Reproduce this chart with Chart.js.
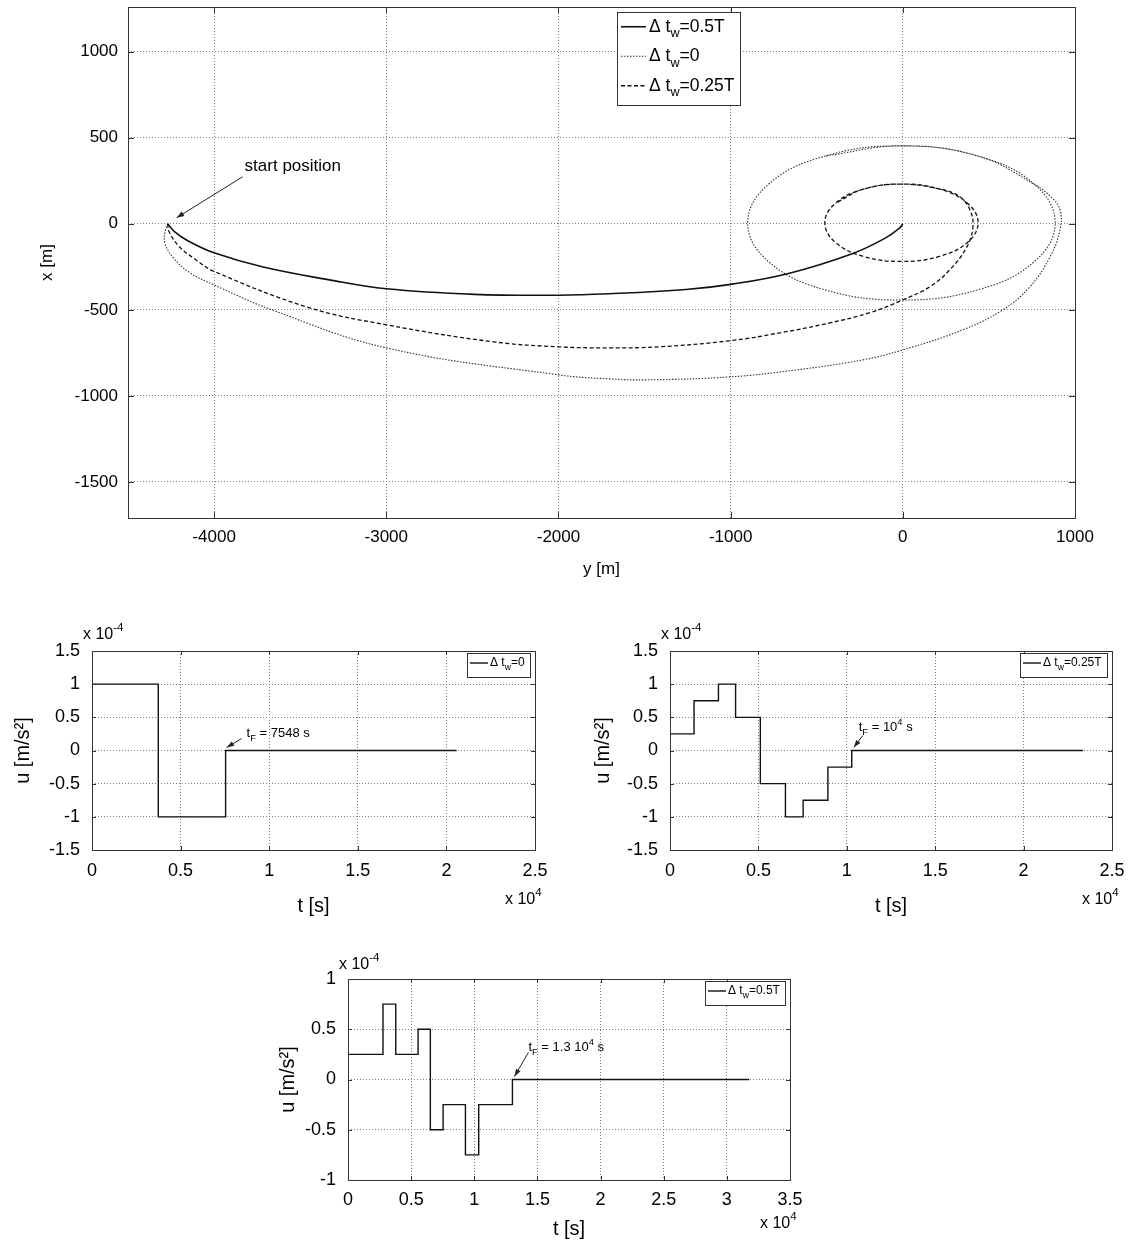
<!DOCTYPE html>
<html>
<head>
<meta charset="utf-8">
<script src="https://cdn.jsdelivr.net/npm/chart.js@4.4.1/dist/chart.umd.min.js"></script>
<style>
    body { margin: 0; background: #fff; width: 1134px; height: 1241px; position: relative; overflow: hidden; }
    canvas { position: absolute; }
</style>
</head>
<body>
<canvas id="orbitChart" width="1134" height="600" style="left:0;top:0"></canvas>
<canvas id="ctrl0Chart" width="567" height="320" style="left:0;top:610px"></canvas>
<canvas id="ctrl25Chart" width="567" height="320" style="left:567px;top:610px"></canvas>
<canvas id="ctrl50Chart" width="600" height="301" style="left:260px;top:940px"></canvas>
<script>
// trajectories, horizontal = y [m], vertical = x [m]
const solidY = [-4270, -4230, -4150, -4000, -3721, -3331, -3000, -2490, -2000, -1710, -1260, -1000, -670, -290, -100, -20, 0];
const solidX = [0, -45, -100, -169, -250, -326, -378, -410, -415, -407, -382, -352, -290, -172, -82, -25, 0];

const dottedY = [-4270, -4285, -4285, -4235, -4140, -4000, -3665, -3000, -2000, -1709, -1488, -1006, -616, -233, 0, 349, 581, 738, 855, 913, 913, 866,
    765, 439, -8, -455, -781, -901, -781, -455, -8, 439, 765, 885, 765, 439, -8, -455];
const dottedX = [0, -50, -115, -200, -285, -355, -500, -721, -878, -901, -907, -890, -849, -791, -733, -616, -500, -366, -192, -35, 81, 151,
    229, 393, 453, 393, 229, 5, -219, -383, -443, -383, -219, 5, 229, 393, 453, 393];

const dashedY = [-4270, -4262, -4203, -4106, -4000, -3450, -3000, -2378, -2000, -1709, -1413, -1006, -715, -424, -192, 0, 157, 273, 372, 407, 390, 331, 233,
    -8, -230, -393, -453, -393, -230, -8, 214, 377, 437, 377, 214, -8, -230, -393];
const dashedX = [0, -45, -132, -209, -277, -487, -587, -686, -715, -721, -715, -680, -634, -576, -517, -442, -366, -267, -134, -17, 81, 157, 198,
    231, 201, 118, 6, -107, -189, -219, -189, -107, 6, 118, 201, 231, 201, 118];

const yTicksM = [-4000, -3000, -2000, -1000, 0, 1000];
const xTicksM = [-1500, -1000, -500, 0, 500, 1000];

// control histories, t in 1e4 s, u in 1e-4 m/s^2
const t0 = [0, 0.374, 0.754, 2.058];
const u0 = [1, -1, 0, 0];
const t25 = [0, 0.136, 0.274, 0.371, 0.511, 0.653, 0.753, 0.893, 1.028, 2.336];
const u25 = [0.25, 0.75, 1, 0.5, -0.5, -1, -0.75, -0.25, 0, 0];
const t50 = [0, 0.277, 0.378, 0.555, 0.652, 0.753, 0.930, 1.035, 1.302, 3.177];
const u50 = [0.25, 0.75, 0.25, 0.5, -0.5, -0.25, -0.75, -0.25, 0, 0];

const tTicks25 = [0, 0.5, 1, 1.5, 2, 2.5];
const tTicks35 = [0, 0.5, 1, 1.5, 2, 2.5, 3, 3.5];
const uTicks15 = [-1.5, -1, -0.5, 0, 0.5, 1, 1.5];
const uTicks1 = [-1, -0.5, 0, 0.5, 1];

const FONT = '"Liberation Sans", Arial, Helvetica, sans-serif';
Chart.defaults.font.family = FONT;
Chart.defaults.color = '#000';

function pts(xs, ys) {
    return xs.map((v, i) => ({ x: v, y: ys[i] }));
}

function richWidth(ctx, parts, size) {
    let w = 0;
    parts.forEach(([s, m]) => {
        ctx.font = (m ? size * 0.72 : size) + 'px ' + FONT;
        w += ctx.measureText(s).width;
    });
    return w;
}

function richText(ctx, x, y, parts, size) {
    ctx.textAlign = 'left';
    ctx.textBaseline = 'middle';
    let cx = x;
    parts.forEach(([s, m]) => {
        ctx.font = (m ? size * 0.72 : size) + 'px ' + FONT;
        const dy = m === 'sub' ? size * 0.4 : m === 'sup' ? -size * 0.42 : 0;
        ctx.fillText(s, cx, y + dy);
        cx += ctx.measureText(s).width;
    });
}

function arrow(ctx, x1, y1, x2, y2) {
    const ang = Math.atan2(y2 - y1, x2 - x1);
    const len = 8, hw = 0.33;
    ctx.beginPath();
    ctx.moveTo(x1, y1);
    ctx.lineTo(x2, y2);
    ctx.stroke();
    ctx.beginPath();
    ctx.moveTo(x2, y2);
    ctx.lineTo(x2 - len * Math.cos(ang - hw), y2 - len * Math.sin(ang - hw));
    ctx.lineTo(x2 - len * Math.cos(ang + hw), y2 - len * Math.sin(ang + hw));
    ctx.closePath();
    ctx.fill();
}

// box, inward ticks, legend, notes and exponent labels
function makeDecor(cfg) {
    return {
        id: 'decor',
        afterDatasetsDraw(chart) {
            const { ctx, chartArea: a, scales } = chart;
            ctx.save();
            ctx.strokeStyle = '#333';
            ctx.lineWidth = 1;
            ctx.beginPath();
            scales.x.ticks.forEach(t => {
                const px = Math.round(scales.x.getPixelForValue(t.value)) + 0.5;
                ctx.moveTo(px, a.bottom); ctx.lineTo(px, a.bottom - cfg.tick);
                ctx.moveTo(px, a.top); ctx.lineTo(px, a.top + cfg.tick);
            });
            scales.y.ticks.forEach(t => {
                const py = Math.round(scales.y.getPixelForValue(t.value)) + 0.5;
                ctx.moveTo(a.left, py); ctx.lineTo(a.left + cfg.tick, py);
                ctx.moveTo(a.right, py); ctx.lineTo(a.right - cfg.tick, py);
            });
            ctx.stroke();
            ctx.strokeRect(Math.round(a.left) + 0.5, Math.round(a.top) + 0.5, Math.round(a.width), Math.round(a.height));

            const L = cfg.legend;
            if (L) {
                const tw = Math.max(...L.rows.map(r => richWidth(ctx, r.parts, L.size)));
                const w = Math.round(L.pad + L.sample + L.gap + tw + L.pad + 2);
                const h = Math.round(L.rows.length * L.rowH + L.padY * 2);
                const x0 = Math.round(L.right !== undefined ? a.right - L.right - w : a.left + L.left);
                const y0 = Math.round(a.top + L.top);
                ctx.fillStyle = '#fff';
                ctx.fillRect(x0, y0, w, h);
                ctx.strokeStyle = '#333';
                ctx.strokeRect(x0 + 0.5, y0 + 0.5, w, h);
                L.rows.forEach((r, i) => {
                    const ds = chart.data.datasets[r.ds];
                    const cy = y0 + L.padY + L.rowH * (i + 0.5) - 2;
                    ctx.strokeStyle = ds.borderColor;
                    ctx.lineWidth = ds.borderWidth;
                    ctx.setLineDash(ds.borderDash || []);
                    ctx.beginPath();
                    ctx.moveTo(x0 + L.pad, cy);
                    ctx.lineTo(x0 + L.pad + L.sample, cy);
                    ctx.stroke();
                    ctx.setLineDash([]);
                    ctx.fillStyle = '#000';
                    richText(ctx, x0 + L.pad + L.sample + L.gap, cy, r.parts, L.size);
                });
            }

            ctx.strokeStyle = '#222';
            ctx.fillStyle = '#222';
            ctx.lineWidth = 1;
            (cfg.notes || []).forEach(n => {
                const px = scales.x.getPixelForValue(n.at[0]);
                const py = scales.y.getPixelForValue(n.at[1]);
                arrow(ctx, px + n.tail[0], py + n.tail[1], px + n.tip[0], py + n.tip[1]);
                ctx.fillStyle = '#000';
                richText(ctx, px + n.text[0], py + n.text[1], n.parts, n.size);
                ctx.fillStyle = '#222';
            });

            ctx.fillStyle = '#000';
            (cfg.mult || []).forEach(m => {
                const x = (m.side === 'left' ? a.left : a.right) + m.dx;
                const y = (m.edge === 'top' ? a.top : a.bottom) + m.dy;
                richText(ctx, x, y, m.parts, m.size);
            });
            ctx.restore();
        },
    };
}

function axis(min, max, ticks, title, o) {
    return {
        type: 'linear',
        min: min,
        max: max,
        afterBuildTicks: s => { s.ticks = ticks.map(v => ({ value: v })); },
        afterFit: s => {
            if (s.isHorizontal()) {
                s.height = o.size;
            } else {
                s.width = o.size;
            }
            // layout padding alone decides where the plot box sits
            s.paddingTop = 0;
            s.paddingBottom = 0;
            s.paddingLeft = 0;
            s.paddingRight = 0;
        },
        grid: { color: '#808080', lineWidth: 1, drawTicks: false },
        border: { display: false, dash: [1, 2] },
        ticks: {
            padding: o.pad,
            font: { size: o.tickFont },
            color: '#000',
            autoSkip: false,
            maxRotation: 0,
            callback: v => String(v),
        },
        title: {
            display: true,
            text: title,
            font: { size: o.titleFont },
            color: '#000',
            padding: { top: o.titlePad, bottom: o.titlePad },
        },
    };
}

const baseOptions = {
    responsive: false,
    animation: false,
    events: [],
    plugins: { legend: { display: false }, tooltip: { enabled: false } },
};

// top: relative trajectories
new Chart(document.getElementById('orbitChart'), {
    type: 'scatter',
    data: {
        datasets: [
            { label: 'Δ tw=0.5T', data: pts(solidY, solidX), showLine: true, borderColor: '#111', borderWidth: 1.6, pointRadius: 0, tension: 0.4 },
            { label: 'Δ tw=0', data: pts(dottedY, dottedX), showLine: true, borderColor: '#333', borderWidth: 1.1, borderDash: [1.5, 1.5], pointRadius: 0, tension: 0.4 },
            { label: 'Δ tw=0.25T', data: pts(dashedY, dashedX), showLine: true, borderColor: '#111', borderWidth: 1.3, borderDash: [4, 2.5], pointRadius: 0, tension: 0.4 },
        ],
    },
    options: {
        ...baseOptions,
        layout: { padding: { top: 7, right: 59, left: 0, bottom: 0 } },
        scales: {
            x: axis(-4500, 1000, yTicksM, 'y [m]', { size: 82, pad: 9, tickFont: 17, titleFont: 17, titlePad: 20 }),
            y: axis(-1710, 1260, xTicksM, 'x [m]', { size: 128, pad: 10, tickFont: 17, titleFont: 17, titlePad: 37 }),
        },
    },
    plugins: [makeDecor({
        tick: 6,
        legend: {
            left: 489, top: 5, size: 17.5, sample: 25, gap: 3, pad: 4, padY: 2, rowH: 29.5,
            rows: [
                { ds: 0, parts: [['Δ t', ''], ['w', 'sub'], ['=0.5T', '']] },
                { ds: 1, parts: [['Δ t', ''], ['w', 'sub'], ['=0', '']] },
                { ds: 2, parts: [['Δ t', ''], ['w', 'sub'], ['=0.25T', '']] },
            ],
        },
        notes: [
            { at: [solidY[0], solidX[0]], tip: [9, -6], tail: [75, -47], text: [77, -57], size: 17, parts: [['start position', '']] },
        ],
    })],
});

function stepChart(id, ts, us, xMax, xTicks, yMin, yMax, yTicks, lay, deco) {
    new Chart(document.getElementById(id), {
        type: 'scatter',
        data: {
            datasets: [
                { data: pts(ts, us), showLine: true, stepped: 'before', borderColor: '#111', borderWidth: 1.4, pointRadius: 0 },
            ],
        },
        options: {
            ...baseOptions,
            layout: { padding: { top: lay.top, right: lay.right, left: 0, bottom: 0 } },
            scales: {
                x: axis(0, xMax, xTicks, 't [s]', { size: lay.xh, pad: lay.xpad, tickFont: 18, titleFont: 20, titlePad: lay.xtp }),
                y: axis(yMin, yMax, yTicks, 'u [m/s²]', { size: lay.yw, pad: 12, tickFont: 18, titleFont: 20, titlePad: lay.ytp }),
            },
        },
        plugins: [makeDecor(deco)],
    });
}

function legendRow(value) {
    return {
        right: 5, top: 2, size: 12, sample: 18, gap: 2, pad: 3, padY: 3, rowH: 18,
        rows: [{ ds: 0, parts: [['Δ t', ''], ['w', 'sub'], [value, '']] }],
    };
}

const expTop = { side: 'left', edge: 'top', dx: -9, dy: -16, size: 16, parts: [['x 10', ''], ['-4', 'sup']] };
const expBottom = { side: 'right', edge: 'bottom', dx: -30, dy: 50, size: 16, parts: [['x 10', ''], ['4', 'sup']] };

stepChart('ctrl0Chart', t0, u0, 2.5, tTicks25, -1.5, 1.5, uTicks15,
    { top: 41, right: 32, xh: 80, yw: 92, xpad: 10, xtp: 12, ytp: 11 },
    {
        tick: 4,
        legend: legendRow('=0'),
        notes: [{ at: [t0[2], 0], tip: [1, -3], tail: [16, -12], text: [21, -17], size: 13, parts: [['t', ''], ['F', 'sub'], [' = 7548 s', '']] }],
        mult: [expTop, expBottom],
    });

stepChart('ctrl25Chart', t25, u25, 2.5, tTicks25, -1.5, 1.5, uTicks15,
    { top: 41, right: 22, xh: 80, yw: 103, xpad: 10, xtp: 12, ytp: 24 },
    {
        tick: 4,
        legend: legendRow('=0.25T'),
        notes: [{ at: [t25[8], 0], tip: [2, -3], tail: [11, -15], text: [7, -23], size: 13, parts: [['t', ''], ['F', 'sub'], [' = 10', ''], ['4', 'sup'], [' s', '']] }],
        mult: [expTop, expBottom],
    });

stepChart('ctrl50Chart', t50, u50, 3.5, tTicks35, -1, 1, uTicks1,
    { top: 39, right: 70, xh: 61, yw: 88, xpad: 9, xtp: 0, ytp: 16 },
    {
        tick: 4,
        legend: legendRow('=0.5T'),
        notes: [{ at: [t50[8], 0], tip: [2, -3], tail: [16, -27], text: [16, -32], size: 13, parts: [['t', ''], ['F', 'sub'], [' = 1.3 10', ''], ['4', 'sup'], [' s', '']] }],
        mult: [{ ...expTop, dy: -14 }, { ...expBottom, dy: 44 }],
    });
</script>
</body>
</html>
